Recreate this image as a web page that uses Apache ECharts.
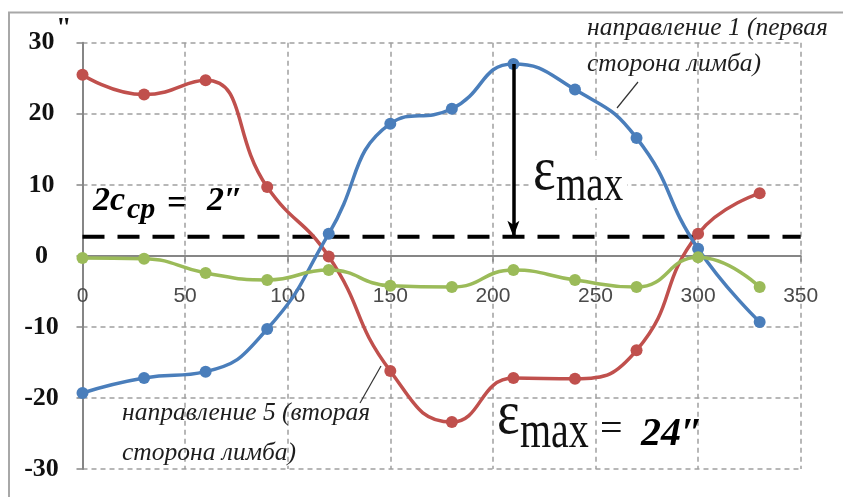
<!DOCTYPE html>
<html>
<head>
<meta charset="utf-8">
<script src="https://cdn.jsdelivr.net/npm/echarts@6/dist/echarts.min.js"></script>
<style>
html,body{margin:0;padding:0;background:#fff;}
#c{width:843px;height:497px;}
</style>
</head>
<body>
<div id="c"></div>
<script>
// ---- data ----
var angles = [0, 30, 60, 90, 120, 150, 180, 210, 240, 270, 300, 330];
var dir1 = [-19.3, -17.2, -16.3, -10.3, 3.1, 18.6, 20.7, 27.0, 23.4, 16.6, 1.0, -9.3];   // направление 1 (blue)
var dir5 = [25.5, 22.7, 24.7, 9.7, -0.1, -16.2, -23.4, -17.2, -17.3, -13.3, 3.1, 8.8];    // направление 5 (red)
var diff = [-0.3, -0.4, -2.4, -3.4, -2.0, -4.2, -4.4, -2.0, -3.4, -4.4, -0.2, -4.4];      // green
var c2Level = 2.7;       // dashed line "2c_cp = 2''"
var epsX = 210;          // εmax arrow position
var epsTop = 27.0;
var xTicks = [0, 50, 100, 150, 200, 250, 300, 350];
var yTicks = [-30, -20, -10, 0, 10, 20, 30];

function pairs(xs, ys) { return xs.map(function (x, i) { return [x, ys[i]]; }); }

var chart = echarts.init(document.getElementById('c'), null, {renderer: 'canvas'});

var serif = 'Liberation Serif, Times New Roman, serif';
var italTxt = {fontFamily: serif, fontStyle: 'italic', fontSize: 25.5, fill: '#1e1e1e'};

var gridTop = 42.7, gridBottom = 28;
var plotH = 497 - gridTop - gridBottom;
var zeroOffset = -plotH * (0 - yTicks[0]) / (yTicks[yTicks.length - 1] - yTicks[0]);

var option = {
  animation: false,
  backgroundColor: '#fff',
  grid: {left: 82.5, right: 42.3, top: gridTop, bottom: gridBottom, containLabel: false, outerBoundsMode: 'none'},
  xAxis: {
    type: 'value', min: xTicks[0], max: xTicks[xTicks.length - 1], interval: 50,
    position: 'bottom', offset: zeroOffset,
    axisLine: {onZero: false, lineStyle: {color: '#868686', width: 2}},
    axisTick: {show: true, length: 6, lineStyle: {color: '#868686', width: 1.5}},
    axisLabel: {margin: 30, fontFamily: 'Liberation Sans, Arial, sans-serif', fontSize: 21, color: '#4a4a4a'},
    splitLine: {show: true, lineStyle: {color: '#a0a0a0', width: 1.5, type: [5, 4]}}
  },
  yAxis: {
    type: 'value', min: yTicks[0], max: yTicks[yTicks.length - 1], interval: 10,
    axisLine: {show: true, onZero: false, lineStyle: {color: '#868686', width: 2}},
    axisTick: {show: true, length: 6, lineStyle: {color: '#868686', width: 1.5}},
    axisLabel: {margin: 41, align: 'center', fontFamily: serif, fontWeight: 'bold', fontSize: 26, color: '#111'},
    splitLine: {show: true, lineStyle: {color: '#a0a0a0', width: 1.5, type: [5, 4]}}
  },
  series: [
    {
      name: 'c2', type: 'line', data: [[xTicks[0], c2Level], [xTicks[xTicks.length - 1], c2Level]],
      symbol: 'none', lineStyle: {color: '#000', width: 4, type: [22, 13]}, z: 1, silent: true
    },
    {
      name: 'направление 5', type: 'line', data: pairs(angles, dir5), smooth: 0.5,
      symbol: 'circle', symbolSize: 12,
      lineStyle: {color: '#c0504d', width: 3.5}, itemStyle: {color: '#c0504d'}, z: 3
    },
    {
      name: 'направление 1', type: 'line', data: pairs(angles, dir1), smooth: 0.5,
      symbol: 'circle', symbolSize: 12,
      lineStyle: {color: '#4a7ebb', width: 3.5}, itemStyle: {color: '#4a7ebb'}, z: 4,
      markLine: {
        silent: true, symbol: ['none', 'arrow'], symbolSize: [9, 16], animation: false,
        label: {show: false},
        lineStyle: {color: '#000', width: 3.5, type: 'solid'},
        data: [[{coord: [epsX, epsTop]}, {coord: [epsX, c2Level]}]]
      }
    },
    {
      name: 'diff', type: 'line', data: pairs(angles, diff), smooth: 0.5,
      symbol: 'circle', symbolSize: 12,
      lineStyle: {color: '#9bbb59', width: 3.5}, itemStyle: {color: '#9bbb59'}, z: 5
    }
  ],
  graphic: [
    {type: 'rect', z: -1, silent: true, shape: {x: 9, y: 12.5, width: 900, height: 600},
     style: {fill: 'none', stroke: '#a8a8a8', lineWidth: 2}},
    {type: 'text', x: 56, y: 15, style: {text: '"', fontFamily: serif, fontWeight: 'bold', fontSize: 28, fill: '#111'}},
    // 2c_cp = 2''
    {type: 'text', x: 93, y: 201.5, style: {text: '2c', fontFamily: serif, fontStyle: 'italic', fontWeight: 'bold', fontSize: 34, fill: '#000', verticalAlign: 'middle'}},
    {type: 'text', x: 127, y: 210, style: {text: 'cp', fontFamily: serif, fontStyle: 'italic', fontWeight: 'bold', fontSize: 30, fill: '#000', verticalAlign: 'middle'}},
    {type: 'text', x: 167, y: 205, style: {text: '=', fontFamily: serif, fontWeight: 'bold', fontSize: 36, fill: '#000', verticalAlign: 'middle'}},
    {type: 'text', x: 207, y: 201.5, style: {text: '2″', fontFamily: serif, fontStyle: 'italic', fontWeight: 'bold', fontSize: 34, fill: '#000', verticalAlign: 'middle'}},
    // upper εmax
    {type: 'rect', silent: true, shape: {x: 532, y: 160, width: 95, height: 48}, style: {fill: '#fff'}, z: 10},
    {type: 'text', x: 533, y: 173, scaleY: 1.15, z: 11, style: {text: 'ε', fontFamily: serif, fontSize: 54, fill: '#111', verticalAlign: 'middle'}},
    {type: 'text', x: 556, y: 186.5, scaleY: 1.3, z: 11, style: {text: 'max', fontFamily: serif, fontSize: 39, fill: '#111', verticalAlign: 'middle'}},
    // lower εmax = 24''
    {type: 'text', x: 497, y: 417, scaleY: 1.15, z: 11, style: {text: 'ε', fontFamily: serif, fontSize: 54, fill: '#111', verticalAlign: 'middle'}},
    {type: 'text', x: 520, y: 433, scaleY: 1.3, z: 11, style: {text: 'max', fontFamily: serif, fontSize: 40, fill: '#111', verticalAlign: 'middle'}},
    {type: 'text', x: 600, y: 430, z: 11, style: {text: '=', fontFamily: serif, fontSize: 40, fill: '#111', verticalAlign: 'middle'}},
    {type: 'text', x: 641, y: 435, z: 11, style: {text: '24″', fontFamily: serif, fontStyle: 'italic', fontWeight: 'bold', fontSize: 40, fill: '#000', verticalAlign: 'middle'}},
    // series captions
    {type: 'text', x: 587, y: 28, z: 11, style: Object.assign({text: 'направление 1 (первая', verticalAlign: 'middle'}, italTxt)},
    {type: 'text', x: 587, y: 64, z: 11, style: Object.assign({text: 'сторона лимба)', verticalAlign: 'middle'}, italTxt)},
    {type: 'line', z: 11, shape: {x1: 638, y1: 82, x2: 617, y2: 108}, style: {stroke: '#333', lineWidth: 1.2}},
    {type: 'text', x: 122, y: 413, z: 11, style: Object.assign({text: 'направление 5 (вторая', verticalAlign: 'middle'}, italTxt)},
    {type: 'text', x: 122, y: 453, z: 11, style: Object.assign({text: 'сторона лимба)', verticalAlign: 'middle'}, italTxt)},
    {type: 'line', z: 11, shape: {x1: 381, y1: 366, x2: 360, y2: 403}, style: {stroke: '#333', lineWidth: 1.2}}
  ]
};
chart.setOption(option);
</script>
</body>
</html>
